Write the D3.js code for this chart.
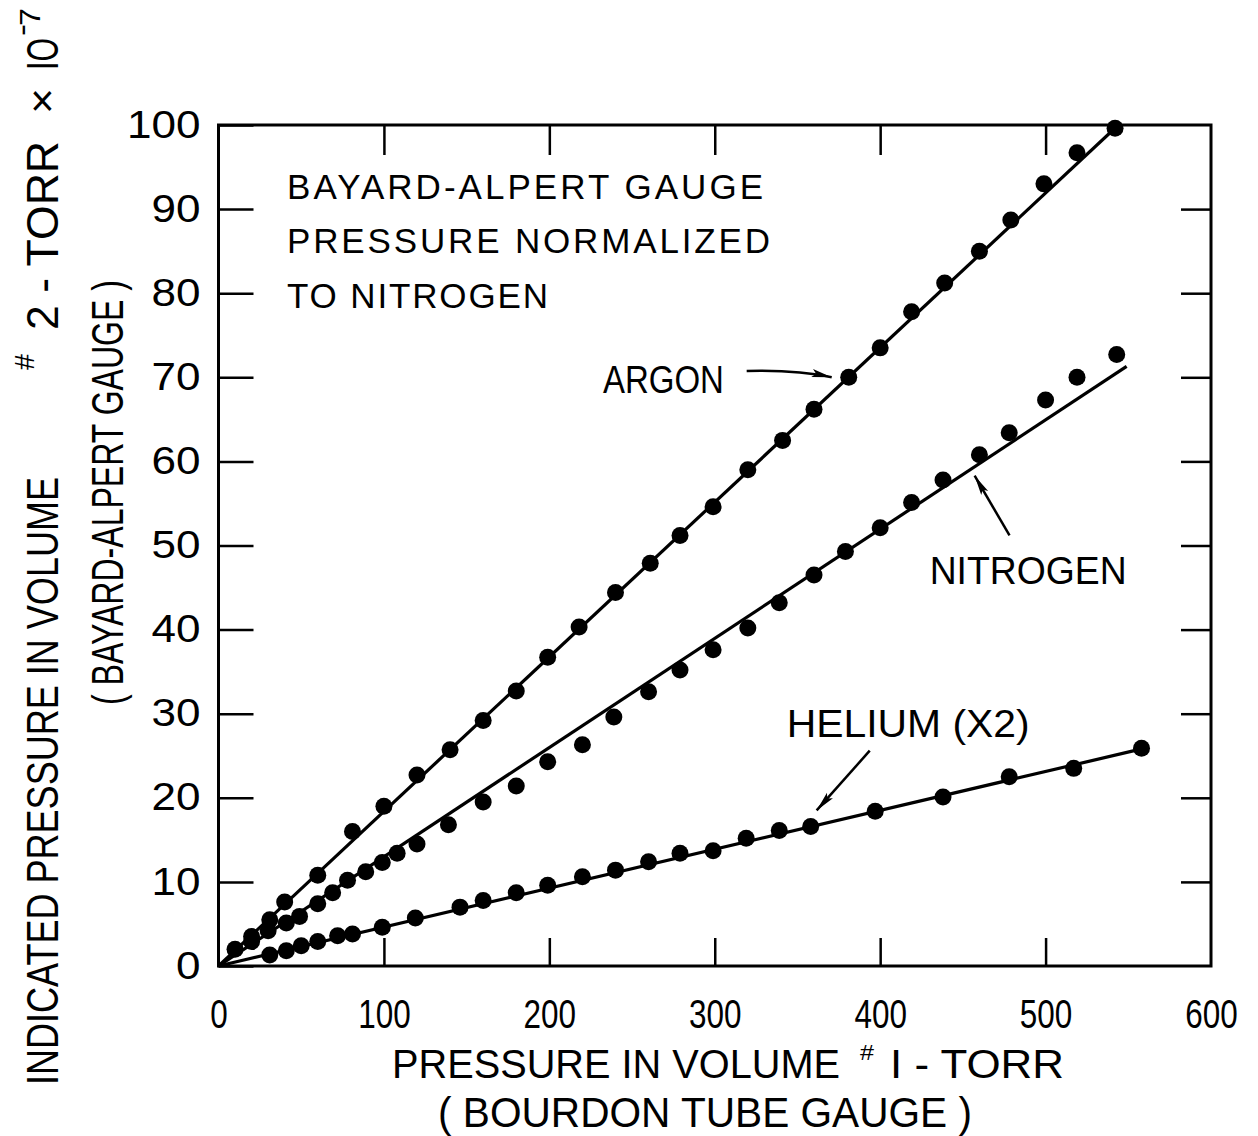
<!DOCTYPE html>
<html><head><meta charset="utf-8">
<script src="https://cdn.jsdelivr.net/npm/d3@7"></script>
<style>body{margin:0;background:#fff}svg{display:block}text{font-family:"Liberation Sans",Arial,sans-serif;fill:#000}</style>
</head><body><svg id="c" width="1258" height="1136"></svg>
<script>
const xTicks = [0,100,200,300,400,500,600];
const yTicks = [0,10,20,30,40,50,60,70,80,90,100];

const argonX = [10,20,31,40,60,81,100,120,140,160,180,199,218,240,261,279,299,320,341,360,381,400,419,439,460,479,499,519,542];
const argonY = [2.0,3.5,5.5,7.6,10.8,16.0,19.0,22.7,25.7,29.2,32.7,36.7,40.3,44.4,47.9,51.2,54.6,59.0,62.5,66.2,70.0,73.5,77.8,81.2,85.0,88.7,93.0,96.7,99.6];

const nitrogenX = [20,30,41,49,60,69,78,89,99,108,120,139,160,180,199,220,239,260,279,299,320,339,360,379,400,419,438,460,478,500,519,543];
const nitrogenY = [2.9,4.2,5.1,5.9,7.4,8.7,10.2,11.2,12.3,13.4,14.5,16.8,19.5,21.4,24.3,26.3,29.6,32.6,35.2,37.6,40.2,43.2,46.5,49.3,52.1,55.1,57.8,60.8,63.4,67.3,70.0,72.7];

const heliumX = [31,41,50,60,72,81,99,119,146,160,180,199,220,240,260,279,299,319,339,358,397,438,478,517,558];
const heliumY = [1.3,1.8,2.4,2.9,3.6,3.8,4.6,5.7,7.0,7.8,8.7,9.6,10.6,11.4,12.4,13.4,13.7,15.2,16.1,16.6,18.4,20.1,22.5,23.5,25.9];

// fitted straight lines (end points)
const argonFitX = [0,544], argonFitY = [0,100];
const nitrogenFitX = [0,549], nitrogenFitY = [0,71.3];
const heliumFitX = [0,560], heliumFitY = [0,25.9];

const svg = d3.select("#c");
const x = d3.scaleLinear().domain([0,600]).range([218.5,1211]);
const y = d3.scaleLinear().domain([0,100]).range([966,125]);

svg.append("defs").append("marker").attr("id","ah").attr("viewBox","0 0 20 10")
  .attr("refX",20).attr("refY",5).attr("markerWidth",20).attr("markerHeight",10)
  .attr("markerUnits","userSpaceOnUse").attr("orient","auto")
  .append("path").attr("d","M0,1 L20,5 L0,9 L4,5 Z").attr("fill","#000");

// frame
svg.append("rect").attr("x",x(0)).attr("y",y(100)).attr("width",x(600)-x(0)).attr("height",y(0)-y(100))
  .attr("fill","none").attr("stroke","#000").attr("stroke-width",3);

function styleAxis(g){ g.select(".domain").remove(); g.selectAll(".tick line").attr("stroke","#000").attr("stroke-width",2.5); }

// left axis
const gl = svg.append("g").attr("transform",`translate(${x(0)},0)`)
  .call(d3.axisLeft(y).tickValues(yTicks).tickSize(-35).tickPadding(18).tickFormat(d3.format("d")));
styleAxis(gl);
gl.selectAll(".tick text").attr("font-size",38).attr("font-family","'Liberation Sans',Arial,sans-serif")
  .attr("textLength",d=>String(d).length*24.5).attr("lengthAdjust","spacingAndGlyphs");
// right ticks
styleAxis(svg.append("g").attr("transform",`translate(${x(600)},0)`)
  .call(d3.axisRight(y).tickValues(yTicks.slice(1,-1)).tickSize(-30).tickFormat("")));
// bottom axis
const gb = svg.append("g").attr("transform",`translate(0,${y(0)})`)
  .call(d3.axisBottom(x).tickValues(xTicks).tickSize(-28).tickPadding(34).tickFormat(d3.format("d")));
styleAxis(gb);
gb.selectAll(".tick line").filter(d=>d===0||d===600).remove();
gb.selectAll(".tick text").attr("font-size",40).attr("font-family","'Liberation Sans',Arial,sans-serif")
  .attr("textLength",d=>String(d).length*17.5).attr("lengthAdjust","spacingAndGlyphs");
// top ticks
styleAxis(svg.append("g").attr("transform",`translate(0,${y(100)})`)
  .call(d3.axisTop(x).tickValues(xTicks.slice(1,-1)).tickSize(-30).tickFormat("")));

// fit lines
const line = d3.line().x(d=>x(d[0])).y(d=>y(d[1]));
[[argonFitX,argonFitY],[nitrogenFitX,nitrogenFitY],[heliumFitX,heliumFitY]].forEach(([fx,fy])=>{
  svg.append("path").attr("d",line(d3.zip(fx,fy))).attr("fill","none").attr("stroke","#000").attr("stroke-width",3.2);
});
// points
[[argonX,argonY],[nitrogenX,nitrogenY],[heliumX,heliumY]].forEach(([px,py])=>{
  svg.append("g").selectAll("circle").data(d3.zip(px,py)).join("circle")
    .attr("cx",d=>x(d[0])).attr("cy",d=>y(d[1])).attr("r",8.5).attr("fill","#000");
});

// annotation text inside plot
function txt(t,xp,yp,size,len,adj){
  return svg.append("text").attr("x",xp).attr("y",yp).attr("font-size",size)
    .attr("textLength",len).attr("lengthAdjust",adj||"spacing").text(t);
}
txt("BAYARD-ALPERT  GAUGE",287,199,35,476);
txt("PRESSURE  NORMALIZED",287,253,35,483);
txt("TO  NITROGEN",287,308,35,261);
txt("ARGON",x(232.4),y(68.1),38,121,"spacingAndGlyphs");
txt("NITROGEN",x(429.9),y(45.4),38,197,"spacingAndGlyphs");
txt("HELIUM  (X2)",x(343.5),y(27.2),38,243,"spacingAndGlyphs");

// arrows
const ar = (p)=>svg.append("path").attr("d",p).attr("fill","none").attr("stroke","#000")
  .attr("stroke-width",2.5).attr("marker-end","url(#ah)");
ar(`M${x(319.3)},${y(70.75)} Q${x(350)},${y(70.9)} ${x(370.7)},${y(70.0)}`);
ar(`M${x(478.2)},${y(51.2)} L${x(457.1)},${y(58.3)}`);
ar(`M${x(393.7)},${y(25.6)} L${x(361.6)},${y(18.5)}`);

// y axis title (rotated), one text element with positioned pieces
const yt = svg.append("g").attr("transform","translate(58,0) rotate(-90)")
  .append("text").attr("y",0).attr("font-size",44);
function rt(t,u0,u1,v,size){ yt.append("tspan").attr("x",-u0).attr("y",v).attr("font-size",size)
  .attr("textLength",u0-u1).attr("lengthAdjust","spacingAndGlyphs").text(t); }
rt("INDICATED  PRESSURE  IN  VOLUME",1085,477,0,44);
rt("#",370,354,-24,28);
rt("2 - TORR",330,141,0,44);
rt("×",114,88,-2,40);
rt("IO",70,38,0,44);
rt("-",36,24,-26,30);
rt("7",26,8,-18,30);
const yt2 = svg.append("g").attr("transform","translate(123,0) rotate(-90)");
yt2.append("text").attr("x",-705).attr("y",0).attr("font-size",44).attr("textLength",425)
  .attr("lengthAdjust","spacingAndGlyphs").text("( BAYARD-ALPERT  GAUGE )");

// x axis title
function xt(t,x0,x1,yb,size){ svg.append("text").attr("x",x0).attr("y",yb).attr("font-size",size)
  .attr("textLength",x1-x0).attr("lengthAdjust","spacingAndGlyphs").text(t); }
xt("PRESSURE IN VOLUME",392,840,1078,40);
xt("#",860,874,1060,22);
xt("I - TORR",890,1064,1078,40);
svg.append("text").attr("x",438).attr("y",1127).attr("font-size",42).attr("textLength",534)
  .attr("lengthAdjust","spacingAndGlyphs").text("( BOURDON  TUBE  GAUGE )");
</script></body></html>
